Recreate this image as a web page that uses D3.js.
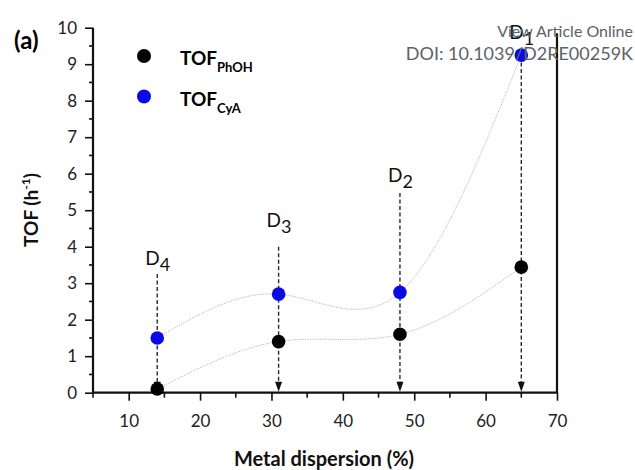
<!DOCTYPE html>
<html>
<head>
<meta charset="utf-8">
<script src="https://cdn.jsdelivr.net/npm/d3@7/dist/d3.min.js"></script>
<style>
  html, body { margin: 0; padding: 0; background: #fff; }
  svg { display: block; }
  text { font-family: Lato, "Open Sans", sans-serif; }
</style>
</head>
<body>
<svg id="chart" width="635" height="470"></svg>
<script>
// Catalyst samples and their metal dispersion (%)
const samples = ["4", "3", "2", "1"];
const dispersion = [14, 31, 48, 65];
// Turnover frequencies (h^-1)
const tofPhOH = [0.1, 1.4, 1.6, 3.44];
const tofCyA = [1.5, 2.7, 2.75, 9.25];
// Where each sample's guide line starts and where its label sits (TOF units)
const guideTop = [3.25, 4.0, 5.47, 9.05];
const labelLevel = [3.5, 4.54, 5.77, 9.69];
// Axis ticks
const xTicks = [10, 20, 30, 40, 50, 60, 70];
const xMinor = [5, 15, 25, 35, 45, 55, 65];
const yTicks = [0, 1, 2, 3, 4, 5, 6, 7, 8, 9, 10];
const yMinor = [0.5, 1.5, 2.5, 3.5, 4.5, 5.5, 6.5, 7.5, 8.5, 9.5];

const svg = d3.select("#chart");
const x = d3.scaleLinear().domain([5, 70]).range([93, 557]);
const y = d3.scaleLinear().domain([0, 10]).range([392.7, 27.7]);

const blue = "#0a0ae6";

// Smoothed trend curves (dotted)
const line = d3.line().x(d => x(d[0])).y(d => y(d[1])).curve(d3.curveNatural);
[tofPhOH, tofCyA].forEach(vals => {
  svg.append("path")
    .attr("d", line(dispersion.map((d, i) => [d, vals[i]])))
    .attr("fill", "none")
    .attr("stroke", "#aeb1d2")
    .attr("stroke-width", 1)
    .attr("stroke-dasharray", "1.2,1.3");
});

// Dashed guides with arrowheads down to the dispersion axis
const guides = svg.append("g");
dispersion.forEach((d, i) => {
  const gx = x(d);
  guides.append("line")
    .attr("x1", gx).attr("x2", gx)
    .attr("y1", y(guideTop[i])).attr("y2", y(0) - 8)
    .attr("stroke", "#2a2a2a")
    .attr("stroke-width", 1.4)
    .attr("stroke-dasharray", "4,2.5");
  guides.append("path")
    .attr("d", `M${gx - 3.5},${y(0) - 11} L${gx + 3.5},${y(0) - 11} L${gx},${y(0) - 1} Z`)
    .attr("fill", "#111");
  const lbl = guides.append("text")
    .attr("x", gx - 12)
    .attr("y", y(labelLevel[i]))
    .attr("font-size", 19)
    .attr("fill", "#111");
  lbl.append("tspan").text("D");
  lbl.append("tspan").attr("dy", 6).attr("font-size", 18).text(samples[i]);
});

// Axes
const axisG = svg.append("g");
const xAxis = d3.axisBottom(x).tickValues(xTicks).tickSize(8).tickPadding(14).tickFormat(d3.format("d"));
const gx = axisG.append("g").attr("transform", `translate(0,${y(0)})`).call(xAxis);
const yAxis = d3.axisLeft(y).tickValues(yTicks).tickSize(8).tickPadding(8).tickFormat(d3.format("d"));
const gy = axisG.append("g").attr("transform", `translate(${x(5)},0)`).call(yAxis);
[gx, gy].forEach(g => {
  g.select(".domain").remove();
  g.selectAll(".tick line").attr("stroke", "#111").attr("stroke-width", 1.6);
  g.selectAll(".tick text").attr("font-size", 17).attr("fill", "#222")
    .attr("font-family", "Lato, 'Open Sans', sans-serif");
});
// minor ticks
axisG.selectAll(".xminor").data(xMinor).enter().append("line")
  .attr("x1", d => x(d)).attr("x2", d => x(d))
  .attr("y1", y(0)).attr("y2", y(0) + 5)
  .attr("stroke", "#111").attr("stroke-width", 1.6);
axisG.selectAll(".yminor").data(yMinor).enter().append("line")
  .attr("x1", x(5) - 4).attr("x2", x(5))
  .attr("y1", d => y(d)).attr("y2", d => y(d))
  .attr("stroke", "#111").attr("stroke-width", 1.6);
// axis lines
axisG.append("line").attr("x1", x(5) - 1).attr("x2", x(70) + 1)
  .attr("y1", y(0)).attr("y2", y(0)).attr("stroke", "#111").attr("stroke-width", 2.2);
axisG.append("line").attr("x1", x(5)).attr("x2", x(5))
  .attr("y1", y(10)).attr("y2", y(0)).attr("stroke", "#111").attr("stroke-width", 2.2);
axisG.append("line").attr("x1", x(70)).attr("x2", x(70))
  .attr("y1", y(9.85)).attr("y2", y(0)).attr("stroke", "#111").attr("stroke-width", 2.2);

// Data markers
svg.append("g").selectAll("circle").data(dispersion).enter().append("circle")
  .attr("cx", d => x(d)).attr("cy", (d, i) => y(tofCyA[i])).attr("r", 6.8).attr("fill", blue);
svg.append("g").selectAll("circle").data(dispersion).enter().append("circle")
  .attr("cx", d => x(d)).attr("cy", (d, i) => y(tofPhOH[i])).attr("r", 6.8).attr("fill", "#000");

// Legend
const legend = [
  { name: "PhOH", color: "#000" },
  { name: "CyA", color: blue }
];
legend.forEach((l, i) => {
  const ly = 56 + i * 40.5;
  svg.append("circle").attr("cx", 144).attr("cy", ly).attr("r", 7).attr("fill", l.color);
  const t = svg.append("text").attr("x", 180).attr("y", ly + 9)
    .attr("font-size", 19).attr("font-weight", "bold").attr("fill", "#000");
  t.append("tspan").text("TOF");
  t.append("tspan").attr("dy", 7).attr("font-size", 13).text(l.name);
});

// Panel tag and axis titles
svg.append("text").attr("x", 14).attr("y", 49).attr("font-size", 24)
  .attr("font-weight", "bold").attr("fill", "#000").text("(a)");
svg.append("text").attr("x", 324).attr("y", 466).attr("text-anchor", "middle")
  .attr("font-size", 20).attr("font-weight", "bold").attr("fill", "#111")
  .text("Metal dispersion (%)");
const yl = svg.append("text").attr("transform", "translate(38,210) rotate(-90)")
  .attr("text-anchor", "middle").attr("font-size", 19).attr("font-weight", "bold").attr("fill", "#111");
yl.append("tspan").text("TOF (h");
yl.append("tspan").attr("dy", -8).attr("font-size", 12).text("-1");
yl.append("tspan").attr("dy", 8).text(")");

// Article link overlay
svg.append("text").attr("x", 633).attr("y", 37).attr("text-anchor", "end")
  .attr("font-size", 16).attr("fill", "#5d6268").text("View Article Online");
svg.append("text").attr("x", 633).attr("y", 60).attr("text-anchor", "end")
  .attr("font-size", 18).attr("fill", "#5d6268").text("DOI: 10.1039/D2RE00259K");
</script>
</body>
</html>
